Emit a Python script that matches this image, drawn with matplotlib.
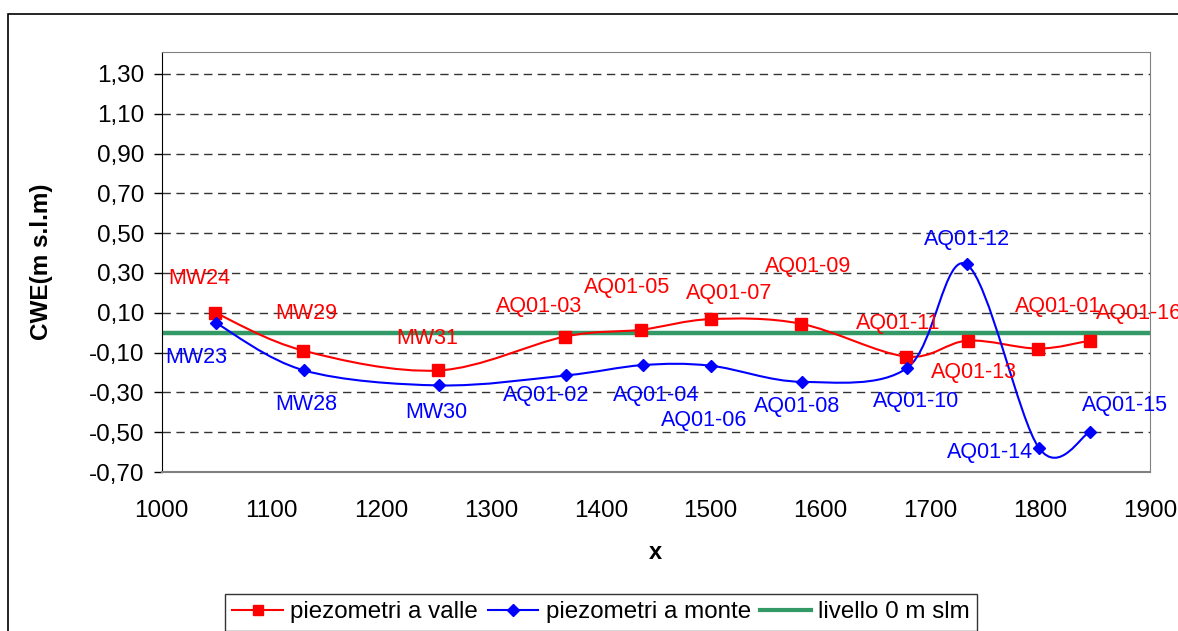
import matplotlib
matplotlib.use("Agg")
import matplotlib.pyplot as plt
from matplotlib.path import Path
from matplotlib.patches import PathPatch, Rectangle
from matplotlib.lines import Line2D
import numpy as np

plt.rcParams['font.family'] = ['Liberation Sans', 'DejaVu Sans']

# piezometri a valle (red)
valle_x = [1049, 1129, 1252, 1367, 1437, 1500, 1582, 1678, 1734, 1798, 1845]
valle_y = [0.10, -0.09, -0.19, -0.02, 0.015, 0.068, 0.045, -0.12, -0.04, -0.08, -0.04]
valle_lab = ['MW24', 'MW29', 'MW31', 'AQ01-03', 'AQ01-05', 'AQ01-07', 'AQ01-09',
             'AQ01-11', 'AQ01-13', 'AQ01-01', 'AQ01-16']

# piezometri a monte (blue)
monte_x = [1050, 1130, 1253, 1368, 1438, 1500, 1583, 1679, 1733, 1799, 1845]
monte_y = [0.047, -0.19, -0.265, -0.215, -0.163, -0.166, -0.247, -0.177, 0.343, -0.58, -0.50]
monte_lab = ['MW23', 'MW28', 'MW30', 'AQ01-02', 'AQ01-04', 'AQ01-06', 'AQ01-08',
             'AQ01-10', 'AQ01-12', 'AQ01-14', 'AQ01-15']

livello_x = [1000, 1900]
livello_y = [0, 0]

yticks = [-0.70, -0.50, -0.30, -0.10, 0.10, 0.30, 0.50, 0.70, 0.90, 1.10, 1.30]
xticks = [1000, 1100, 1200, 1300, 1400, 1500, 1600, 1700, 1800, 1900]

# label offsets in pixels (dx, dy), screen coords, y up
valle_off = [(-16, 34), (3, 37), (-11, 32), (-26, 30), (-14, 42), (18, 26), (7, 57),
             (-8, 33), (6, -32), (20, 42), (49, 27)]
monte_off = [(-20, -34), (2, -34), (-3, -27), (-20, -20), (14, -30), (-7, -55), (-5, -25),
             (9, -34), (0, 25), (-49, -4), (35, 27)]


def smooth_path(xs, ys):
    # excel-like smoothed line: cubic bezier with catmull-rom control points
    p = np.column_stack([xs, ys]).astype(float)
    n = len(p)
    verts = [p[0]]
    codes = [Path.MOVETO]
    for i in range(n - 1):
        p0 = p[i - 1] if i > 0 else p[i]
        p1 = p[i]
        p2 = p[i + 1]
        p3 = p[i + 2] if i + 2 < n else p[i + 1]
        c1 = p1 + (p2 - p0) / 6.0
        c2 = p2 - (p3 - p1) / 6.0
        verts += [c1, c2, p2]
        codes += [Path.CURVE4] * 3
    return Path(verts, codes)


fig = plt.figure(figsize=(11.78, 6.31), dpi=100)
ax = fig.add_axes([161.5 / 1178, 1 - 472 / 631, (1150 - 161.5) / 1178, (472 - 52) / 631])

ax.set_xlim(1000, 1900)
ax.set_ylim(-0.70, 1.41)

for v in yticks[1:]:
    ax.axhline(v, color='#333333', lw=1.0, ls=(0, (6, 4)), zorder=1)

ax.plot(livello_x, livello_y, color='#339966', lw=3.2, zorder=2)

ax.add_patch(PathPatch(smooth_path(valle_x, valle_y), fc='none', ec='#ff0000', lw=1.5, zorder=3))
ax.plot(valle_x, valle_y, ls='none', marker='s', ms=8, color='#ff0000', zorder=4)
ax.add_patch(PathPatch(smooth_path(monte_x, monte_y), fc='none', ec='#0000ff', lw=1.5, zorder=3))
ax.plot(monte_x, monte_y, ls='none', marker='D', ms=6.5, color='#0000ff', zorder=4)

for xv, yv, t, o in zip(valle_x, valle_y, valle_lab, valle_off):
    ax.annotate(t, (xv, yv), xytext=o, textcoords='offset pixels', ha='center', va='center',
                color='#ff0000', fontsize=15.5, annotation_clip=False, zorder=5)
for xv, yv, t, o in zip(monte_x, monte_y, monte_lab, monte_off):
    ax.annotate(t, (xv, yv), xytext=o, textcoords='offset pixels', ha='center', va='center',
                color='#0000ff', fontsize=15.5, annotation_clip=False, zorder=5)

ax.set_yticks(yticks)
ax.set_yticklabels([('%.2f' % v).replace('.', ',') for v in yticks])
ax.set_xticks(xticks)
ax.set_xticklabels([str(v) for v in xticks])
ax.tick_params(axis='y', length=6, width=1, direction='out', pad=6, labelsize=17.5)
ax.tick_params(axis='x', length=0, pad=20, labelsize=17.5)

ax.spines['left'].set_color('black')
for s in ['top', 'right', 'bottom']:
    ax.spines[s].set_color('#808080')
ax.spines['bottom'].set_linewidth(1.5)

ax.set_xlabel('x', fontsize=17, fontweight='bold', labelpad=14)
ax.set_ylabel('CWE(m s.l.m)', fontsize=17.5, fontweight='bold', labelpad=26)

# chart area border
fig.patches.append(Rectangle((8 / 1178, -0.1), 1.2, 1 - 14 / 631 + 0.1, transform=fig.transFigure,
                             fill=False, ec='black', lw=1.2))

handles = [Line2D([], [], color='#ff0000', marker='s', ms=7, lw=1.5),
           Line2D([], [], color='#0000ff', marker='D', ms=6, lw=1.5),
           Line2D([], [], color='#339966', lw=3)]
leg = fig.legend(handles, ['piezometri a valle', 'piezometri a monte', 'livello 0 m slm'],
                 loc='upper left', bbox_to_anchor=(225 / 1178, 1 - 594 / 631), ncol=3,
                 fontsize=17.4, frameon=True, fancybox=False, edgecolor='black',
                 handlelength=2.1, handletextpad=0.3, columnspacing=0.4, borderpad=0.3,
                 borderaxespad=0)
leg.get_frame().set_linewidth(1.0)

fig.savefig('out.png', dpi=100)
